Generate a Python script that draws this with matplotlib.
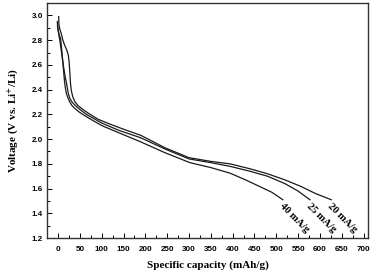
import numpy as np
import matplotlib
matplotlib.use('Agg')
import matplotlib.pyplot as plt
from matplotlib.ticker import MultipleLocator

plt.rcParams['mathtext.fontset'] = 'stix'

# discharge curves
cap_20 = [1.5, 2, 4, 7.6, 11, 15, 20, 23.5, 25.5, 27, 28.5, 30.5, 34, 39, 46,
          57, 69, 92, 120, 150, 190, 245, 300, 350, 394, 440, 480, 520, 555,
          590, 626]
volt_20 = [2.99, 2.93, 2.89, 2.85, 2.80, 2.76, 2.72, 2.68, 2.62, 2.54, 2.45,
           2.39, 2.34, 2.30, 2.27, 2.24, 2.21, 2.16, 2.12, 2.08, 2.03, 1.93,
           1.85, 1.82, 1.80, 1.76, 1.72, 1.67, 1.62, 1.56, 1.51]

cap_25 = [-1.5, -1, 1, 4, 8, 12, 16, 19, 23.5, 27, 32, 40, 50, 65, 80, 100,
          140, 190, 245, 300, 350, 394, 440, 480, 520, 550, 577]
volt_25 = [2.95, 2.90, 2.86, 2.80, 2.70, 2.60, 2.51, 2.46, 2.37, 2.33, 2.30,
           2.27, 2.24, 2.20, 2.17, 2.13, 2.07, 2.01, 1.92, 1.84, 1.81, 1.78,
           1.74, 1.70, 1.64, 1.58, 1.51]

cap_40 = [-1, 0, 2, 6, 9, 11, 13, 15, 17, 19, 23, 27, 32, 38, 48, 61, 80, 100,
          140, 188, 245, 302, 350, 394, 430, 460, 490, 515]
volt_40 = [2.93, 2.89, 2.85, 2.81, 2.70, 2.62, 2.54, 2.46, 2.41, 2.37, 2.33,
           2.30, 2.27, 2.25, 2.22, 2.19, 2.15, 2.11, 2.05, 1.98, 1.89, 1.81,
           1.77, 1.725, 1.67, 1.62, 1.57, 1.51]

labels = ['20 mA/g', '25 mA/g', '40 mA/g']

fig = plt.figure(figsize=(3.77, 2.74), dpi=100)
ax = fig.add_axes([0.125, 0.131, 0.851, 0.858])

curves = [(cap_20, volt_20), (cap_25, volt_25), (cap_40, volt_40)]
for (c, v), lab in zip(curves, labels):
    ax.plot(c, v, color='#1a1a1a', lw=0.9)
    ax.annotate(lab, xy=(c[-1], v[-1]), xytext=(1, -1), textcoords='offset points',
                rotation=-45, rotation_mode='anchor', ha='left', va='top',
                fontsize=7.5, family='Liberation Serif', weight='bold')

ax.set_xlim(-25, 710)
ax.set_ylim(1.2, 3.1)
ax.xaxis.set_major_locator(MultipleLocator(50))
ax.xaxis.set_minor_locator(MultipleLocator(25))
ax.yaxis.set_major_locator(MultipleLocator(0.2))
ax.yaxis.set_minor_locator(MultipleLocator(0.1))
ax.tick_params(which='both', direction='in', top=False, right=False,
               labelsize=5.8)
ax.tick_params(axis='x', pad=6)
ax.tick_params(axis='y', pad=3)
ax.tick_params(which='major', length=3.5, width=0.7)
ax.tick_params(which='minor', length=2, width=0.7)
for t in ax.get_xticklabels() + ax.get_yticklabels():
    t.set_family('Liberation Sans')
    t.set_weight('bold')
ax.yaxis.set_major_formatter(matplotlib.ticker.FormatStrFormatter('%.1f'))

for s in ax.spines.values():
    s.set_linewidth(1.0)
    s.set_color('#333333')

ax.set_xlabel('Specific capacity (mAh/g)', family='Liberation Serif',
              weight='bold', fontsize=8, labelpad=5)
ax.set_ylabel(r'Voltage (V vs. Li$^\mathbf{+}$/Li)', family='Liberation Serif',
              weight='bold', fontsize=8, labelpad=8)

fig.savefig('out.png', dpi=100)
